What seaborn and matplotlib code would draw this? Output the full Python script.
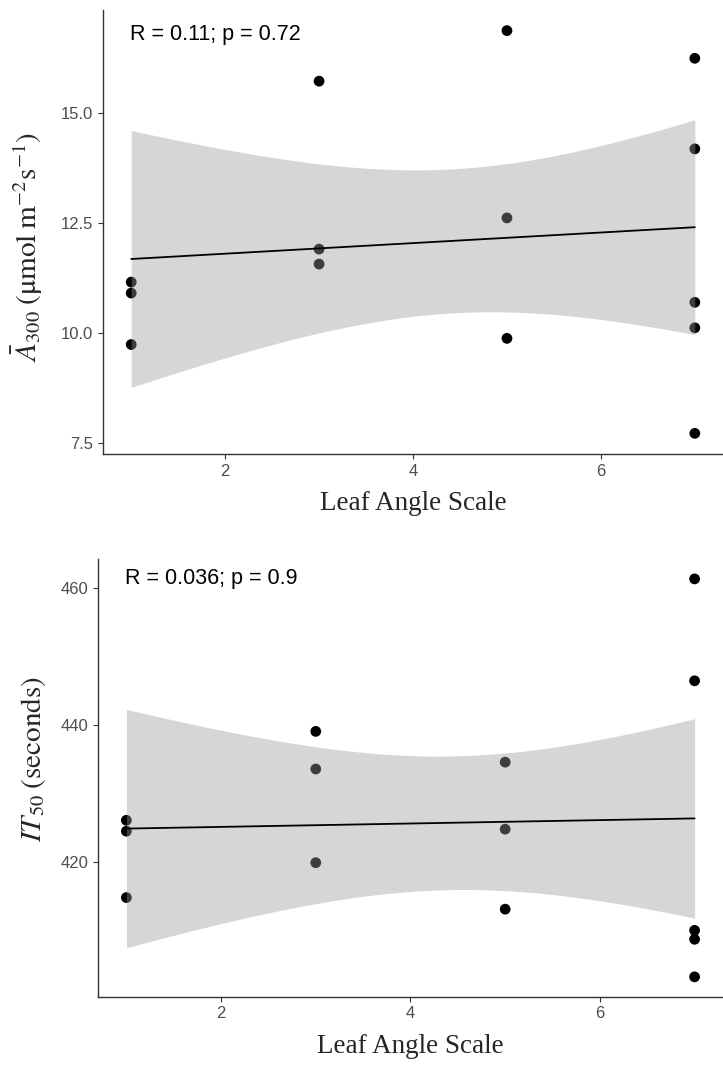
import numpy as np
import pandas as pd
import matplotlib.pyplot as plt
import seaborn as sns

# leaf angle scale of the 14 plants (same x for both panels)
leaf_angle = [1, 1, 1, 3, 3, 3, 5, 5, 5, 7, 7, 7, 7, 7]
# mean assimilation A300 (umol m-2 s-1)
a300 = [11.15, 10.90, 9.73, 15.72, 11.90, 11.56, 16.87, 12.61, 9.87,
        16.24, 14.18, 10.69, 10.11, 7.71]
# IT50 (seconds)
it50 = [426.1, 424.5, 414.8, 439.1, 433.6, 419.9, 434.6, 424.8, 413.1,
        461.4, 446.5, 410.0, 408.7, 403.2]

x_ticks = [2, 4, 6]
a300_ticks = [7.5, 10.0, 12.5, 15.0]
it50_ticks = [420, 440, 460]
stat_labels = ["R = 0.11; p = 0.72", "R = 0.036; p = 0.9"]
x_label = "Leaf Angle Scale"
y_labels = [r"$\bar{A}_{300}\;(\mathrm{μmol\;m^{-2}s^{-1}})$",
            r"$IT_{50}\;(\mathrm{seconds})$"]

sns.set_style("ticks")
plt.rcParams["font.family"] = ["Liberation Sans", "DejaVu Sans"]
plt.rcParams["mathtext.fontset"] = "stix"

df = pd.DataFrame({"angle": leaf_angle, "a300": a300, "it50": it50})


def add_band(ax, x, y, t_crit=2.1788):
    #  95% confidence band of the linear fit (t, df = n - 2)
    x = np.asarray(x, float)
    y = np.asarray(y, float)
    n = len(x)
    b, a = np.polyfit(x, y, 1)
    s = np.sqrt(np.sum((y - (a + b * x)) ** 2) / (n - 2))
    grid = np.linspace(x.min(), x.max(), 80)
    se = s * np.sqrt(1 / n + (grid - x.mean()) ** 2 / np.sum((x - x.mean()) ** 2))
    fit = a + b * grid
    ax.fill_between(grid, fit - t_crit * se, fit + t_crit * se,
                    color="#999999", alpha=0.4, lw=0, zorder=2)


fig = plt.figure(figsize=(7.23, 10.7), dpi=100)
ax_top = fig.add_axes([0.1425, 0.5757, 0.8575, 0.415])
ax_bot = fig.add_axes([0.1355, 0.0685, 0.8645, 0.409])

panels = [(ax_top, "a300", a300_ticks, (7.24, 17.34), "{:.1f}", (-0.122, 0.465)),
          (ax_bot, "it50", it50_ticks, (400.3, 464.3), "{:.0f}", (-0.103, 0.543))]

for i, (ax, col, yt, ylim, fmt, lab_xy) in enumerate(panels):
    sns.regplot(data=df, x="angle", y=col, ax=ax, ci=None,
                scatter_kws=dict(s=60, color="black", edgecolor="none", alpha=1, zorder=1),
                line_kws=dict(color="black", lw=1.3, zorder=3))
    add_band(ax, df["angle"], df[col])

    ax.set_xlim(0.7, 7.3)
    ax.set_ylim(*ylim)
    ax.set_xticks(x_ticks)
    ax.set_yticks(yt)
    ax.set_yticklabels([fmt.format(v) for v in yt])
    sns.despine(ax=ax)
    for sp in ["left", "bottom"]:
        ax.spines[sp].set_color("#333333")
        ax.spines[sp].set_linewidth(1.0)
    ax.tick_params(colors="#333333", labelcolor="#4D4D4D", labelsize=12,
                   length=3.5, width=0.8)

    ax.set_xlabel(x_label, family=["Liberation Serif"], fontsize=19.5, labelpad=9)
    ax.set_ylabel(y_labels[i], fontsize=21, va="center")
    ax.yaxis.set_label_coords(*lab_xy)

    ax.text(0.044, 0.945 if i == 0 else 0.956, stat_labels[i], transform=ax.transAxes,
            fontsize=15.5, color="black", va="center", ha="left")

fig.savefig("out.png", dpi=100)
